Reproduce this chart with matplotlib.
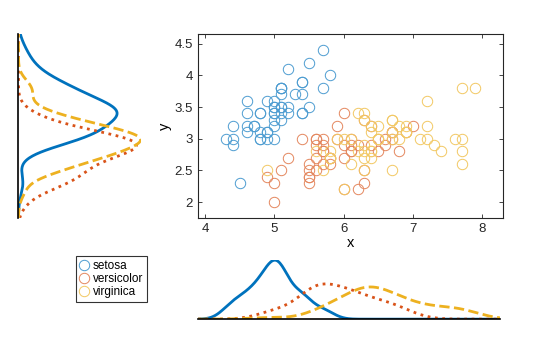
import numpy as np
import matplotlib
matplotlib.use('Agg')
import matplotlib.pyplot as plt
from matplotlib.colors import to_rgb

plt.rcParams['font.family'] = ['Liberation Sans', 'DejaVu Sans']

# Fisher iris: sepal length (x) and sepal width (y)
setosa_x = [5.1, 4.9, 4.7, 4.6, 5.0, 5.4, 4.6, 5.0, 4.4, 4.9, 5.4, 4.8, 4.8, 4.3, 5.8, 5.7, 5.4, 5.1, 5.7, 5.1,
            5.4, 5.1, 4.6, 5.1, 4.8, 5.0, 5.0, 5.2, 5.2, 4.7, 4.8, 5.4, 5.2, 5.5, 4.9, 5.0, 5.5, 4.9, 4.4, 5.1,
            5.0, 4.5, 4.4, 5.0, 5.1, 4.8, 5.1, 4.6, 5.3, 5.0]
setosa_y = [3.5, 3.0, 3.2, 3.1, 3.6, 3.9, 3.4, 3.4, 2.9, 3.1, 3.7, 3.4, 3.0, 3.0, 4.0, 4.4, 3.9, 3.5, 3.8, 3.8,
            3.4, 3.7, 3.6, 3.3, 3.4, 3.0, 3.4, 3.5, 3.4, 3.2, 3.1, 3.4, 4.1, 4.2, 3.1, 3.2, 3.5, 3.6, 3.0, 3.4,
            3.5, 2.3, 3.2, 3.5, 3.8, 3.0, 3.8, 3.2, 3.7, 3.3]
versicolor_x = [7.0, 6.4, 6.9, 5.5, 6.5, 5.7, 6.3, 4.9, 6.6, 5.2, 5.0, 5.9, 6.0, 6.1, 5.6, 6.7, 5.6, 5.8, 6.2, 5.6,
                5.9, 6.1, 6.3, 6.1, 6.4, 6.6, 6.8, 6.7, 6.0, 5.7, 5.5, 5.5, 5.8, 6.0, 5.4, 6.0, 6.7, 6.3, 5.6, 5.5,
                5.5, 6.1, 5.8, 5.0, 5.6, 5.7, 5.7, 6.2, 5.1, 5.7]
versicolor_y = [3.2, 3.2, 3.1, 2.3, 2.8, 2.8, 3.3, 2.4, 2.9, 2.7, 2.0, 3.0, 2.2, 2.9, 2.9, 3.1, 3.0, 2.7, 2.2, 2.5,
                3.2, 2.8, 2.5, 2.8, 2.9, 3.0, 2.8, 3.0, 2.9, 2.6, 2.4, 2.4, 2.7, 2.7, 3.0, 3.4, 3.1, 2.3, 3.0, 2.5,
                2.6, 3.0, 2.6, 2.3, 2.7, 3.0, 2.9, 2.9, 2.5, 2.8]
virginica_x = [6.3, 5.8, 7.1, 6.3, 6.5, 7.6, 4.9, 7.3, 6.7, 7.2, 6.5, 6.4, 6.8, 5.7, 5.8, 6.4, 6.5, 7.7, 7.7, 6.0,
               6.9, 5.6, 7.7, 6.3, 6.7, 7.2, 6.2, 6.1, 6.4, 7.2, 7.4, 7.9, 6.4, 6.3, 6.1, 7.7, 6.3, 6.4, 6.0, 6.9,
               6.7, 6.9, 5.8, 6.8, 6.7, 6.7, 6.3, 6.5, 6.2, 5.9]
virginica_y = [3.3, 2.7, 3.0, 2.9, 3.0, 3.0, 2.5, 2.9, 2.5, 3.6, 3.2, 2.7, 3.0, 2.5, 2.8, 3.2, 3.0, 3.8, 2.6, 2.2,
               3.2, 2.8, 2.8, 2.7, 3.3, 3.2, 2.8, 3.0, 2.8, 3.0, 2.8, 3.8, 2.8, 2.8, 2.6, 3.0, 3.4, 3.1, 3.0, 3.1,
               3.1, 3.1, 2.7, 3.2, 3.3, 3.0, 2.5, 3.0, 3.4, 3.0]

names = ['setosa', 'versicolor', 'virginica']
xs = [setosa_x, versicolor_x, virginica_x]
ys = [setosa_y, versicolor_y, virginica_y]
colors = ['#0072BD', '#D95319', '#EDB120']
styles = ['-', ':', '--']

xlim = (3.9, 8.3)
ylim = (1.75, 4.65)


def kde(data, grid):
    d = np.asarray(data)
    sig = np.median(np.abs(d - np.median(d))) / 0.6745
    bw = sig * (4 / (3 * len(d))) ** 0.2
    z = (grid[:, None] - d[None, :]) / bw
    return np.exp(-0.5 * z ** 2).sum(axis=1) / (len(d) * bw * np.sqrt(2 * np.pi))


def lighter(c, f=0.3):
    r = np.array(to_rgb(c))
    return tuple(r + (1 - r) * f)


fig = plt.figure(figsize=(5.6, 3.37), dpi=100)
ax = fig.add_axes([0.3536, 0.353, 0.545, 0.546])
axl = fig.add_axes([0.033, 0.353, 0.218, 0.546])
axb = fig.add_axes([0.3536, 0.053, 0.54, 0.175])

handles = []
for x, y, c, n in zip(xs, ys, colors, names):
    h, = ax.plot(x, y, 'o', mfc='none', mec=lighter(c), ms=7.5, mew=0.7, label=n)
    handles.append(h)
ax.set_xlim(xlim)
ax.set_ylim(ylim)
ax.set_xticks([4, 5, 6, 7, 8])
ax.set_yticks([2, 2.5, 3, 3.5, 4, 4.5])
ax.set_yticklabels(['2', '2.5', '3', '3.5', '4', '4.5'])
ax.tick_params(direction='in', top=True, right=True, labelsize=9.5, length=3, width=0.6, colors='#262626')
for s in ax.spines.values():
    s.set_linewidth(0.8)
    s.set_color('#262626')
ax.set_xlabel('x', fontsize=10.5, labelpad=1)
ax.set_ylabel('y', fontsize=10.5, labelpad=2)

gx = np.linspace(xlim[0], xlim[1], 300)
gy = np.linspace(ylim[0], ylim[1], 300)
mx = 0
my = 0
for x, y, c, st in zip(xs, ys, colors, styles):
    dx = kde(x, gx)
    dy = kde(y, gy)
    mx = max(mx, dx.max())
    my = max(my, dy.max())
    axb.plot(gx, dx, color=c, ls=st, lw=2)
    axl.plot(dy, gy, color=c, ls=st, lw=2)

axb.set_xlim(xlim)
axb.set_ylim(0, mx)
axl.set_ylim(ylim)
axl.set_xlim(0, my)
for a in (axb, axl):
    a.set_xticks([])
    a.set_yticks([])
    for s in a.spines.values():
        s.set_visible(False)
axb.spines['bottom'].set_visible(True)
axl.spines['left'].set_visible(True)
axb.spines['bottom'].set_linewidth(1.2)
axl.spines['left'].set_linewidth(1.2)

leg = fig.legend(handles=handles, loc='upper left', bbox_to_anchor=(0.136, 0.24),
                 fontsize=8.5, frameon=True, fancybox=False, edgecolor='black',
                 handlelength=0.8, handletextpad=0.3, borderpad=0.3, labelspacing=0.12,
                 borderaxespad=0)
leg.get_frame().set_linewidth(0.8)

fig.savefig('out.png', dpi=100)
